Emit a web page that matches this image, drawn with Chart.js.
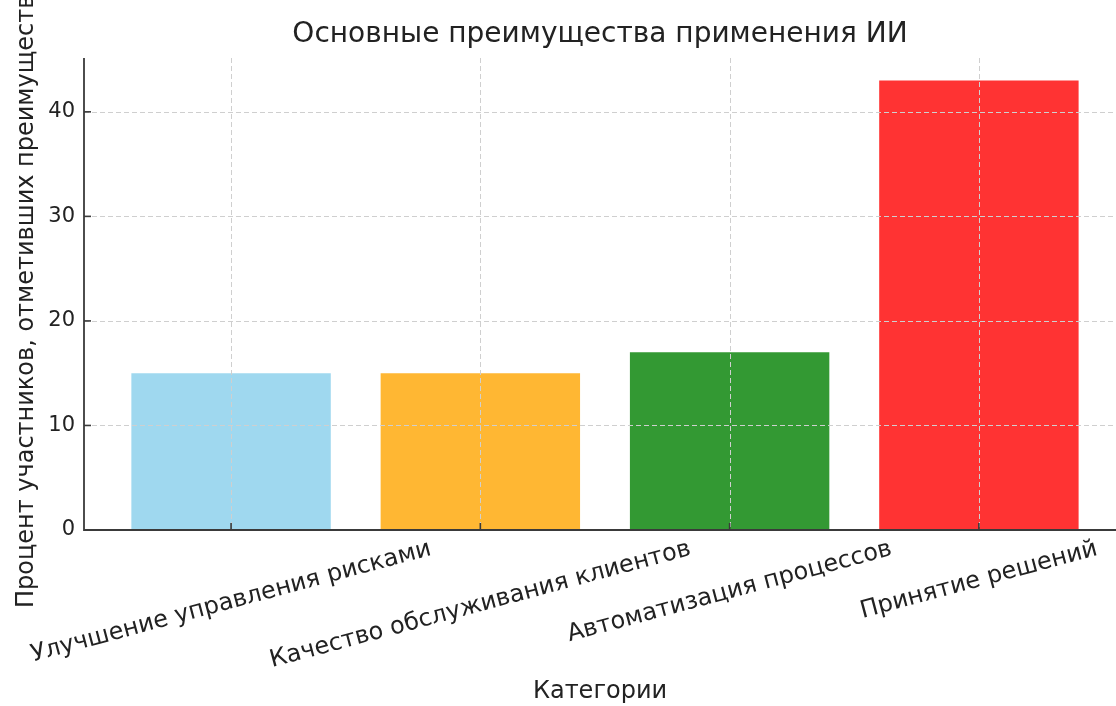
<!DOCTYPE html>
<html>
<head>
<meta charset="utf-8">
<script src="https://cdn.jsdelivr.net/npm/chart.js@4/dist/chart.umd.min.js"></script>
<style>
  html, body { margin: 0; padding: 0; background: #fff; }
  #wrap { width: 1116px; height: 706px; }
</style>
</head>
<body>
<div id="wrap"><canvas id="chart"></canvas></div>
<script>
// data
const categories = [
  "Улучшение управления рисками",
  "Качество обслуживания клиентов",
  "Автоматизация процессов",
  "Принятие решений"
];
const values = [15, 15, 17, 43];
const barColors = ["#9fd8ef", "#ffb733", "#339933", "#ff3333"];
const yTicks = [0, 10, 20, 30, 40];

const chartTitle = "Основные преимущества применения ИИ";
const xTitle = "Категории";
const yTitle = "Процент участников, отметивших преимущества";

const textColor = "#222";
const spineColor = "#3a3a3a";
const gridColor = "#cfcfcf";

Chart.defaults.font.family = "'DejaVu Sans', sans-serif";

// grid on top of the bars, inward ticks, spines and the rotated category labels
const axisDecor = {
  id: "axisDecor",
  afterDatasetsDraw(chart) {
    const { ctx, chartArea: a, scales: { x, y } } = chart;
    ctx.save();

    ctx.strokeStyle = gridColor;
    ctx.lineWidth = 1;
    ctx.setLineDash([5, 3]);
    yTicks.forEach((v) => {
      if (v === 0) return;
      const py = Math.round(y.getPixelForValue(v)) + 0.5;
      ctx.beginPath(); ctx.moveTo(a.left, py); ctx.lineTo(a.right, py); ctx.stroke();
    });
    categories.forEach((c, i) => {
      const px = Math.round(x.getPixelForValue(i)) + 0.5;
      ctx.beginPath(); ctx.moveTo(px, a.top); ctx.lineTo(px, a.bottom); ctx.stroke();
    });
    ctx.setLineDash([]);

    // spines
    ctx.strokeStyle = spineColor;
    ctx.lineWidth = 1.8;
    ctx.beginPath();
    ctx.moveTo(a.left, a.top);
    ctx.lineTo(a.left, a.bottom);
    ctx.lineTo(a.right, a.bottom);
    ctx.stroke();

    // ticks pointing inward
    ctx.lineWidth = 1.6;
    yTicks.forEach((v) => {
      const py = y.getPixelForValue(v);
      ctx.beginPath(); ctx.moveTo(a.left, py); ctx.lineTo(a.left + 7, py); ctx.stroke();
    });
    categories.forEach((c, i) => {
      const px = x.getPixelForValue(i);
      ctx.beginPath(); ctx.moveTo(px, a.bottom); ctx.lineTo(px, a.bottom - 7); ctx.stroke();
    });

    // category labels, rotated 15 deg, centred on the tick
    const ang = 15 * Math.PI / 180;
    const fs = 24;
    ctx.font = fs + "px 'DejaVu Sans'";
    ctx.fillStyle = textColor;
    ctx.textAlign = "center";
    ctx.textBaseline = "middle";
    categories.forEach((c, i) => {
      const px = x.getPixelForValue(i);
      const w = ctx.measureText(c).width;
      const bbH = w * Math.sin(ang) + fs * Math.cos(ang);
      ctx.save();
      ctx.translate(px, a.bottom + 7 + bbH / 2);
      ctx.rotate(-ang);
      ctx.fillText(c, 0, 0);
      ctx.restore();
    });

    ctx.restore();
  }
};

new Chart(document.getElementById("chart"), {
  type: "bar",
  data: {
    datasets: [{
      data: values.map((v, i) => ({ x: i, y: v })),
      backgroundColor: barColors,
      borderWidth: 0,
      categoryPercentage: 1,
      barPercentage: 0.8
    }]
  },
  options: {
    responsive: true,
    maintainAspectRatio: false,
    animation: false,
    layout: { padding: 0 },
    plugins: {
      legend: { display: false },
      tooltip: { enabled: false },
      title: {
        display: true,
        text: chartTitle,
        fullSize: false,
        color: textColor,
        font: { size: 28, weight: "normal" },
        padding: { top: 18, bottom: 6.4 }
      }
    },
    scales: {
      x: {
        type: "linear",
        offset: false,
        min: -0.59,
        max: 3.55,
        grid: { display: false },
        border: { display: false },
        afterBuildTicks: (scale) => { scale.ticks = categories.map((c, i) => ({ value: i })); },
        ticks: { display: false },
        title: {
          display: true,
          text: xTitle,
          color: textColor,
          font: { size: 24 },
          padding: { top: 0, bottom: 0 }
        },
        afterFit: (scale) => { scale.height = 176; }
      },
      y: {
        min: 0,
        max: 45.15,
        grid: { display: false, drawTicks: false },
        border: { display: false },
        afterBuildTicks: (scale) => { scale.ticks = yTicks.map((v) => ({ value: v })); },
        ticks: {
          color: textColor,
          font: { size: 21 },
          padding: 9
        },
        title: {
          display: true,
          text: yTitle,
          color: textColor,
          font: { size: 24 },
          padding: { top: 12, bottom: 0 }
        },
        afterFit: (scale) => { scale.width = 84; }
      }
    }
  },
  plugins: [axisDecor]
});
</script>
</body>
</html>
